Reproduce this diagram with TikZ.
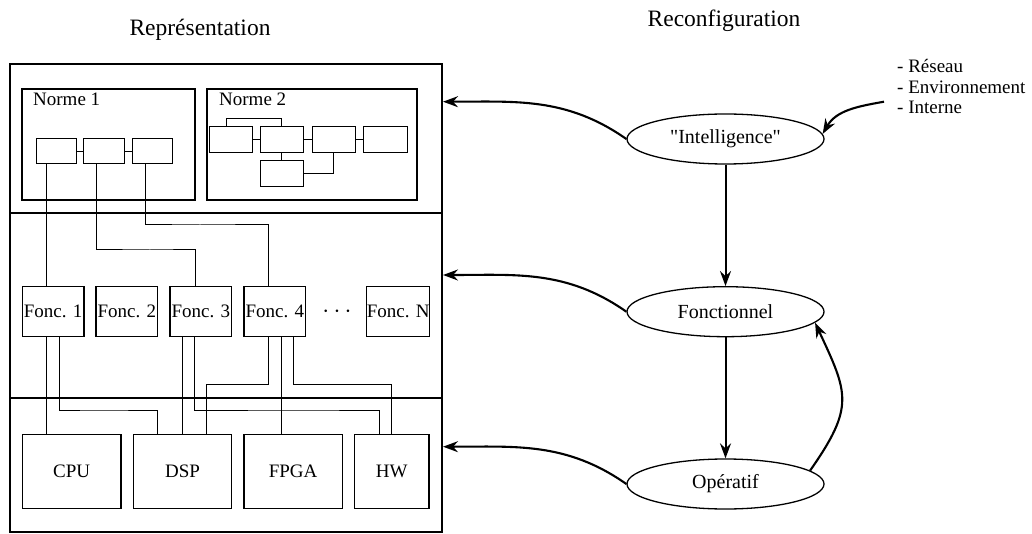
\documentclass[tikz,border=0pt]{standalone}
\usepackage{fontspec}
\setmainfont{Liberation Serif}[Ligatures=TeXOff]
\usetikzlibrary{shapes.geometric,arrows.meta}
\tikzset{
  layer/.style={draw, line width=2.3pt, inner sep=0pt},
  normbox/.style={draw, line width=2.2pt, inner sep=0pt},
  blk/.style={draw, line width=1pt, inner sep=0pt},
  fonc/.style={draw, line width=1.2pt, inner sep=0pt, minimum width=61.7pt,
    minimum height=50pt, font=\fontsize{19}{22}\selectfont},
  hwbox/.style={draw, line width=1.2pt, inner sep=0pt, minimum height=74pt,
    font=\fontsize{19}{22}\selectfont},
  wire/.style={line width=1pt},
  state/.style={ellipse, draw, line width=1.3pt, minimum width=197pt,
    minimum height=50pt, inner sep=0pt, font=\fontsize{20}{24}\selectfont},
  tip/.style={-{Stealth[length=15pt,width=11pt,inset=5pt]}},
  arr/.style={tip, line width=2.1pt},
  varr/.style={tip, line width=2pt},
  title/.style={font=\fontsize{23.5}{28}\selectfont, anchor=base, inner sep=0pt},
  lbl/.style={font=\fontsize{19}{22}\selectfont, anchor=base west, inner sep=0pt},
}
\begin{document}
\begin{tikzpicture}[x=1pt,y=-1pt]
\useasboundingbox (0,0) rectangle (1032,534);

% titles
\node[title] (trep) at (200,36) {Représentation};
\node[title] (trec) at (724,27) {Reconfiguration};

% the three layers
\node[layer, minimum width=432pt, minimum height=149pt] (top) at (226,138.5) {};
\node[layer, minimum width=432pt, minimum height=185pt] (mid) at (226,305.5) {};
\node[layer, minimum width=432pt, minimum height=134pt] (bot) at (226,465) {};

% norm 1
\node[normbox, minimum width=173pt, minimum height=111pt] (norme1) at (108.5,144.5) {};
\node[lbl] (n1) at (33,106) {Norme 1};
\node[blk, minimum width=40pt, minimum height=25pt] (a1) at (56,151.5) {};
\node[blk, minimum width=41pt, minimum height=25pt] (a2) at (103.5,151.5) {};
\node[blk, minimum width=40pt, minimum height=25pt] (a3) at (152,151.5) {};
\draw[wire] (a1) -- (a2);
\draw[wire] (a2) -- (a3);

% norm 2
\node[normbox, minimum width=210pt, minimum height=111pt] (norme2) at (312,144.5) {};
\node[lbl] (n2) at (219,106) {Norme 2};
\node[blk, minimum width=43pt, minimum height=25.6pt] (b1) at (230.5,139.5) {};
\node[blk, minimum width=43pt, minimum height=25.6pt] (b2) at (281.5,139.5) {};
\node[blk, minimum width=43pt, minimum height=25.6pt] (b3) at (333.5,139.5) {};
\node[blk, minimum width=44pt, minimum height=25.6pt] (b4) at (385,139.5) {};
\node[blk, minimum width=43pt, minimum height=25.6pt] (b5) at (281.5,173.8) {};
\draw[wire] (b1) -- (b2);
\draw[wire] (b2) -- (b3);
\draw[wire] (b3) -- (b4);
\draw[wire] (b2) -- (b5);
\draw[wire] (b3.south) |- (b5.east);
\coordinate (br) at (250,118.7);
\draw[wire] ([xshift=-4pt]b1.north) |- (br) -| (b2.north);

% functions
\node[fonc] (f1) at (53.2,311.7) {Fonc. 1};
\node[fonc] (f2) at (126.8,311.7) {Fonc. 2};
\node[fonc] (f3) at (200.8,311.7) {Fonc. 3};
\node[fonc] (f4) at (274.8,311.7) {Fonc. 4};
\node[font=\fontsize{24}{26}\selectfont, inner sep=0pt] (dots) at (337,311.7) {$\cdots$};
\node[fonc] (fN) at (398.2,311.7) {Fonc. N};

% hardware targets
\node[hwbox, minimum width=98.7pt] (cpu) at (71.65,471.3) {CPU};
\node[hwbox, minimum width=98.4pt] (dsp) at (182.5,471.3) {DSP};
\node[hwbox, minimum width=98.3pt] (fpga) at (293.15,471.3) {FPGA};
\node[hwbox, minimum width=74.7pt] (hw) at (391.65,471.3) {HW};

% norm 1 -> functions
\coordinate (a1s) at ([xshift=-9.3pt]a1.south);
\coordinate (a2s) at ([xshift=-6.8pt]a2.south);
\coordinate (a3s) at ([xshift=-6.3pt]a3.south);
\coordinate (f3n) at ([xshift=-5.8pt]f3.north);
\coordinate (f4n) at ([xshift=-6.5pt]f4.north);
\draw[wire] (a1s) -- (a1s |- f1.north);
\coordinate (r2) at (150,250);
\draw[wire] (a2s) |- (r2) -| (f3n);
\coordinate (r3) at (200,225);
\draw[wire] (a3s) |- (r3) -| (f4n);

% functions -> hardware
\coordinate (f1a) at ([xshift=-6.5pt]f1.south);
\coordinate (f1b) at ([xshift=6.1pt]f1.south);
\coordinate (f3a) at ([xshift=-18.1pt]f3.south);
\coordinate (f3b) at ([xshift=-6.5pt]f3.south);
\coordinate (f4a) at ([xshift=-6.5pt]f4.south);
\coordinate (f4b) at ([xshift=6.2pt]f4.south);
\coordinate (f4c) at ([xshift=18.5pt]f4.south);
\coordinate (dspl) at ([xshift=-24.8pt]dsp.north);
\coordinate (dspr) at ([xshift=24.2pt]dsp.north);
\coordinate (hwl) at ([xshift=-12.35pt]hw.north);
\draw[wire] (f1a) -- (f1a |- cpu.north);
\coordinate (r4) at (100,410);
\draw[wire] (f1b) |- (r4) -| (dspl);
\draw[wire] (f3a) -- (f3a |- dsp.north);
\coordinate (r5) at (300,410);
\draw[wire] (f3b) |- (r5) -| (hwl);
\coordinate (r6) at (240,384.3);
\draw[wire] (f4a) |- (r6) -| (dspr);
\draw[wire] (f4b) -- (f4b |- fpga.north);
\coordinate (r7) at (340,384.3);
\draw[wire] (f4c) |- (r7) -| (hw.north);

% reconfiguration levels
\node[state] (intel) at (725.5,139) {"Intelligence"};
\node[state] (fonct) at (725.5,311.7) {Fonctionnel};
\node[state] (oper) at (725.5,484) {Opératif};

% triggers
\node[lbl] (l1) at (897,73) {- Réseau};
\node[lbl] (l2) at (897,93.5) {- Environnement};
\node[lbl] (l3) at (897,114) {- Interne};
\coordinate (ext) at (884,101.7);
\draw[arr] (ext) to[out=190,in=60] (intel.3);

% actions on the layers
\coordinate (t1) at (443,101.7);
\coordinate (t2) at (443,275);
\coordinate (t3) at (443,446.7);
\draw[arr] (intel.west) to[out=145,in=0] (t1);
\draw[arr] (fonct.west) to[out=145,in=0] (t2);
\draw[arr] (oper.west) to[out=145,in=0] (t3);

\draw[varr] (intel) -- (fonct);
\draw[varr] (fonct) -- (oper);
\draw[arr] (oper.9) to[out=55,in=-65,looseness=1.35] (fonct.-7);
\end{tikzpicture}
\end{document}
